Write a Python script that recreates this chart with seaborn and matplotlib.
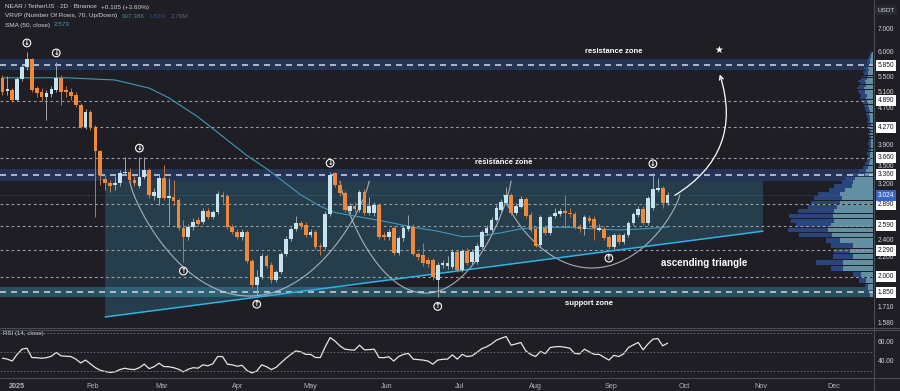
import numpy as np
import pandas as pd
import matplotlib
matplotlib.use('Agg')
import matplotlib.pyplot as plt
import matplotlib.dates as mdates
from matplotlib.ticker import NullLocator
import seaborn as sns

# ---- NEAR / USDT, 2D candles starting 2024-12-26 ----
opens = [5.49, 5.13, 5.16, 4.91, 5.46, 5.80, 6.04, 5.21, 5.11, 4.98, 5.06, 5.16, 5.49, 5.16, 5.11, 5.03,
         4.78, 4.28, 4.62, 4.28, 3.79, 3.28, 3.22, 3.19, 3.22, 3.39, 3.40, 3.27, 3.17, 3.32, 3.44, 3.01,
         2.98, 3.30, 2.98, 3.00, 2.95, 2.56, 2.45, 2.57, 2.67, 2.64, 2.79, 2.71, 2.78, 3.03, 3.01, 2.57,
         2.51, 2.45, 2.51, 2.17, 1.92, 2.00, 2.22, 2.12, 1.97, 2.05, 2.24, 2.42, 2.55, 2.63, 2.60, 2.47,
         2.51, 2.34, 2.325, 2.75, 3.39, 3.19, 3.06, 2.79, 2.86, 2.81, 3.07, 2.76, 2.76, 2.88, 2.47, 2.45,
         2.56, 2.255, 2.43, 2.55, 2.57, 2.24, 2.233, 2.18, 2.18, 1.97, 2.12, 2.11, 2.10, 2.27, 2.07, 2.28,
         2.155, 2.155, 2.325, 2.50, 2.535, 2.67, 2.81, 2.91, 3.03, 2.76, 2.85, 2.97, 2.736, 2.55, 2.35,
         2.56, 2.50, 2.72, 2.75, 2.79, 2.76, 2.75, 2.57, 2.55, 2.69, 2.68, 2.535, 2.55, 2.45, 2.325, 2.47,
         2.39, 2.47, 2.63, 2.74, 2.82, 2.63, 2.84, 3.11, 3.14, 2.91]
highs = [5.57, 5.54, 5.21, 5.51, 5.89, 6.26, 6.07, 5.27, 5.21, 5.16, 5.27, 5.95, 5.57, 5.27, 5.21, 5.11,
         4.83, 4.69, 4.66, 4.32, 3.81, 3.35, 3.27, 3.34, 3.44, 3.67, 3.47, 3.34, 3.67, 3.67, 3.47, 3.14,
         3.35, 3.53, 3.30, 3.27, 2.98, 2.67, 2.61, 2.69, 2.71, 2.83, 2.83, 2.81, 3.09, 3.07, 3.04, 2.61,
         2.55, 2.55, 2.535, 2.19, 2.07, 2.255, 2.24, 2.155, 2.07, 2.27, 2.46, 2.57, 2.72, 2.65, 2.64, 2.55,
         2.535, 2.37, 2.79, 3.40, 3.40, 3.22, 3.09, 2.91, 2.92, 3.11, 3.12, 3.00, 2.92, 2.91, 2.51, 2.55,
         2.59, 2.46, 2.60, 2.74, 2.61, 2.27, 2.37, 2.21, 2.20, 2.155, 2.18, 2.22, 2.30, 2.29, 2.30, 2.31,
         2.30, 2.37, 2.535, 2.60, 2.71, 2.88, 2.97, 3.15, 3.06, 2.91, 3.01, 3.00, 2.78, 2.57, 2.74,
         2.60, 2.74, 2.83, 2.83, 3.03, 2.83, 2.78, 2.61, 2.74, 2.74, 2.72, 2.61, 2.59, 2.47, 2.50, 2.50,
         2.50, 2.65, 2.78, 2.86, 2.86, 3.01, 3.39, 3.30, 3.17, 3.07]
lows = [5.03, 5.03, 4.86, 4.88, 5.40, 5.71, 5.11, 4.98, 4.88, 4.43, 4.98, 5.11, 4.78, 4.98, 4.91, 4.73,
        4.26, 4.23, 4.21, 2.71, 3.19, 3.11, 3.07, 3.11, 3.17, 3.35, 3.23, 3.17, 3.14, 3.28, 2.98, 2.95,
        2.88, 2.95, 2.60, 2.88, 2.535, 2.155, 2.41, 2.535, 2.59, 2.61, 2.68, 2.68, 2.75, 2.91, 2.55, 2.48,
        2.42, 2.41, 2.14, 1.89, 1.82, 1.98, 2.09, 1.94, 1.95, 2.03, 2.22, 2.40, 2.52, 2.55, 2.45, 2.45,
        2.30, 2.233, 2.30, 2.72, 3.15, 3.01, 2.78, 2.75, 2.78, 2.78, 2.74, 2.74, 2.72, 2.42, 2.41, 2.41,
        2.233, 2.233, 2.40, 2.52, 2.22, 2.18, 2.11, 2.10, 1.97, 1.80, 2.09, 2.08, 2.08, 2.05, 2.05, 2.12,
        2.13, 2.13, 2.30, 2.47, 2.51, 2.65, 2.78, 2.88, 2.74, 2.74, 2.83, 2.69, 2.51, 2.325, 2.325,
        2.47, 2.47, 2.69, 2.72, 2.56, 2.71, 2.55, 2.51, 2.47, 2.63, 2.41, 2.52, 2.41, 2.30, 2.30, 2.36,
        2.36, 2.45, 2.60, 2.71, 2.60, 2.60, 2.81, 3.07, 2.84, 2.88]
closes = [5.11, 5.19, 4.91, 5.46, 5.80, 6.04, 5.16, 5.08, 4.98, 5.08, 5.19, 5.49, 5.11, 5.11, 5.01, 4.78,
          4.28, 4.62, 4.28, 3.79, 3.35, 3.22, 3.17, 3.22, 3.39, 3.40, 3.27, 3.22, 3.32, 3.44, 3.03, 3.07,
          3.30, 2.98, 3.01, 2.94, 2.56, 2.45, 2.57, 2.64, 2.61, 2.79, 2.71, 2.78, 3.04, 3.00, 2.57, 2.51,
          2.45, 2.51, 2.17, 1.917, 2.00, 2.22, 2.11, 1.967, 2.05, 2.24, 2.42, 2.55, 2.63, 2.59, 2.47, 2.51,
          2.325, 2.325, 2.75, 3.35, 3.19, 3.06, 2.81, 2.86, 2.82, 3.07, 2.76, 2.86, 2.88, 2.45, 2.45, 2.51,
          2.255, 2.43, 2.56, 2.59, 2.24, 2.21, 2.14, 2.13, 2.00, 2.12, 2.14, 2.14, 2.27, 2.07, 2.28, 2.14,
          2.27, 2.34, 2.51, 2.56, 2.67, 2.83, 2.92, 3.03, 2.76, 2.86, 2.97, 2.72, 2.535, 2.34, 2.71,
          2.50, 2.71, 2.76, 2.79, 2.76, 2.75, 2.57, 2.55, 2.71, 2.65, 2.56, 2.56, 2.43, 2.325, 2.47, 2.39,
          2.47, 2.63, 2.75, 2.82, 2.63, 2.98, 3.12, 3.14, 2.91, 3.024]

# SMA(50, close)
sma_dates = ['2024-12-26', '2025-01-21', '2025-02-10', '2025-02-24', '2025-03-04', '2025-03-16',
             '2025-03-28', '2025-04-05', '2025-04-13', '2025-04-19', '2025-04-27', '2025-05-05',
             '2025-05-11', '2025-05-21', '2025-05-31', '2025-06-12', '2025-06-22', '2025-07-02',
             '2025-07-10', '2025-07-18', '2025-07-26', '2025-08-05', '2025-08-15', '2025-08-25',
             '2025-09-04', '2025-09-14', '2025-09-24']
sma_vals = [5.49, 5.49, 5.43, 5.21, 4.96, 4.50, 4.00, 3.70, 3.46, 3.27, 3.03, 2.86, 2.77, 2.71,
            2.65, 2.57, 2.52, 2.45, 2.46, 2.50, 2.55, 2.57, 2.57, 2.55, 2.535, 2.55, 2.573]

# RSI(14, close), one value per candle
rsi = [43, 42, 40, 47, 52.5, 53.5, 43.7, 43.5, 43, 43.5, 45, 49, 45.4, 45, 44.7, 42, 38, 41, 37, 33,
       30.3, 29, 28, 28.6, 31, 32.4, 31.4, 31, 33, 36.7, 32, 34, 37.7, 34.2, 34, 33, 31.4, 28.6, 31.4,
       33, 32.5, 36, 35, 37, 44.7, 44.7, 36.7, 36, 34.5, 35.5, 30, 27.5, 29.5, 36, 34, 31, 33.5, 38.4,
       43, 47, 50.7, 49.6, 47, 47, 43.7, 43.7, 55, 64.7, 61, 56, 52.5, 51.8, 51.5, 56.7, 51.8, 52, 52.5,
       43.7, 43.5, 44.5, 40, 44.7, 47, 48, 42, 41.5, 41, 40, 36.7, 41, 41.8, 42, 46.5, 42, 47, 44.7,
       45.4, 49, 53, 55, 58, 62, 64, 65.8, 56.7, 58, 59.5, 50.7, 47, 44.7, 50, 47.9, 54.2, 55, 55.3,
       54.5, 53.5, 48, 47.5, 52.5, 49.6, 47, 47, 44, 41, 46, 44.7, 47.5, 54.2, 57, 59.5, 51.8, 58, 63,
       63.7, 56, 58.8]

# Visible range volume profile, 70 rows from 1.80 to 6.26 (relative volume)
vp_total = [5, 8, 14, 20, 43, 58, 41, 40, 43, 48, 75, 86, 78, 83, 85, 76, 66, 63, 60, 56, 45, 40, 31, 28,
            21, 14, 10, 8, 6, 5, 6, 5, 4, 5, 4, 4, 5, 4, 5, 5, 6, 5, 6, 7, 7, 8, 9, 10, 12, 13, 12, 14,
            15, 16, 14, 13, 15, 12, 10, 9, 10, 8, 9, 7, 6, 6, 5, 4, 3, 3]
vp_up = [3, 5, 7, 12, 30, 30, 20, 23, 20, 33, 42, 46, 43, 40, 41, 40, 36, 33, 31, 33, 28, 21, 20, 18,
         8, 7, 5, 4, 3, 3, 3, 2, 2, 2, 2, 2, 3, 2, 3, 2, 3, 3, 3, 4, 3, 4, 5, 5, 6, 7, 6, 8, 8, 9, 7, 7,
         8, 6, 5, 5, 5, 4, 5, 4, 3, 3, 3, 2, 2, 1]
vp_low, vp_high = 1.80, 6.26

level_lines = [4.89, 4.27, 3.66, 2.89, 2.59, 2.29, 2.00]
zones = [(5.71, 6.04, 5.85), (3.25, 3.455, 3.36), (1.804, 1.898, 1.85)]
plain_ticks = [7.0, 5.5, 5.1, 4.7, 3.9, 3.5, 3.2, 2.4, 2.2, 1.71, 1.58]
boxed_ticks = [5.85, 4.89, 4.27, 3.66, 3.36, 2.89, 2.59, 2.29, 2.0, 1.85]
last_price = 3.024
month_labels = ['2025', 'Feb', 'Mar', 'Apr', 'May', 'Jun', 'Jul', 'Aug', 'Sep', 'Oct', 'Nov', 'Dec']

BG = '#1e1e24'
UP = '#c6e4f0'
DOWN = '#f0883a'
TXT = '#d1d4dc'

sns.set_theme(style='dark')
plt.rcParams['font.family'] = ['Liberation Sans', 'DejaVu Sans']

fig = plt.figure(figsize=(9, 3.91), dpi=100)
fig.patch.set_facecolor(BG)
W, H = 900, 391
ax = fig.add_axes([0, 1 - 327 / H, 873 / W, 327 / H])
ax_rsi = fig.add_axes([0, 1 - 377 / H, 873 / W, 48 / H])
for a in (ax, ax_rsi):
    a.set_facecolor(BG)
    for s in a.spines.values():
        s.set_visible(False)

dates = pd.date_range('2024-12-26', periods=len(closes), freq='2D')
xd = mdates.date2num(dates)
o, h, l, c = map(np.array, (opens, highs, lows, closes))
x_left = mdates.date2num(pd.Timestamp('2024-12-25'))
x_right = mdates.date2num(pd.Timestamp('2025-12-17'))

ax.set_yscale('log')
ax.set_ylim(1.549, 8.15)
ax.set_xlim(x_left, x_right)
ax.yaxis.set_major_locator(NullLocator())
ax.yaxis.set_minor_locator(NullLocator())
ax.set_xticks([])
ax.set_xlabel('')
ax.set_ylabel('')

# zones
for lo, hi, lev in zones[:2]:
    ax.axhspan(lo, hi, color='#233456', zorder=0.5, lw=0)
ax.axhspan(zones[2][0], zones[2][1], color='#28505f', zorder=0.5, lw=0)

# triangle box
t0, t1 = mdates.date2num(pd.Timestamp('2025-02-06')), mdates.date2num(pd.Timestamp('2025-11-02'))
ax.fill([t0, t1, t1, t0], [3.25, 3.25, 2.52, 1.63], color='#3a8aa8', alpha=0.3, lw=0, zorder=0.6)

# volume profile
edges = np.linspace(vp_low, vp_high, len(vp_total) + 1)
centers = (edges[:-1] + edges[1:]) / 2
binh = edges[1] - edges[0]
scale = 34.7 / max(vp_total)
tot_w = np.array(vp_total) * scale
up_w = np.array(vp_up) * scale
ax.barh(centers, tot_w, left=x_right - tot_w, height=binh * 0.85, color='#2c4a86', alpha=0.9, lw=0, zorder=1)
ax.barh(centers, up_w, left=x_right - up_w, height=binh * 0.85, color='#6a98a8', alpha=0.9, lw=0, zorder=1.05)

for lev in level_lines:
    ax.axhline(lev, color='#9a9ca4', lw=0.8, ls=(0, (2.5, 2.5)), zorder=1.2)
ax.axhline(last_price, color='#4a78c0', lw=0.6, ls=(0, (1, 2)), alpha=0.7, zorder=1.2)
for lo, hi, lev in zones:
    ax.axhline(lev, color='#c8ccd4', lw=1.2, ls=(0, (3.6, 3)), zorder=2)


def cup_curve(left, right, p_top, p_bot, n=120):
    a, b = mdates.date2num(pd.Timestamp(left)), mdates.date2num(pd.Timestamp(right))
    u = np.linspace(-1, 1, n)
    xs = (a + b) / 2 + (b - a) / 2 * u
    depth = (1 - u ** 2) ** 0.8
    ly = np.log(p_top) - (np.log(p_top) - np.log(p_bot)) * depth
    return xs, np.exp(ly)


for left, right, pt, pb in [('2025-02-16', '2025-05-25', 3.25, 1.813),
                            ('2025-05-13', '2025-07-22', 3.25, 1.84),
                            ('2025-07-19', '2025-09-29', 3.03, 2.09)]:
    cx, cy = cup_curve(left, right, pt, pb)
    ax.plot(cx, cy, color='#c0c4c8', lw=0.8, alpha=0.85, zorder=1.5)

# trendline
ax.plot([t0, t1], [1.63, 2.52], color='#2cb4ea', lw=1.1, zorder=2.2)

# SMA
sns.lineplot(x=mdates.date2num(pd.to_datetime(sma_dates)), y=sma_vals, ax=ax, color='#3e9ab8', lw=0.8, zorder=2.4)

# candles
up = c >= o
body_lo = np.minimum(o, c)
body_hi = np.maximum(o, c)
body_h = np.maximum(body_hi - body_lo, body_lo * 0.005)
ax.vlines(xd[up], l[up], h[up], color='#9aa6ac', lw=0.7, zorder=3)
ax.vlines(xd[~up], l[~up], h[~up], color='#c8743a', lw=0.7, zorder=3)
ax.bar(xd[up], body_h[up], bottom=body_lo[up], width=1.5, color=UP, lw=0, zorder=3.1)
ax.bar(xd[~up], body_h[~up], bottom=body_lo[~up], width=1.5, color=DOWN, lw=0, zorder=3.1)

# pivot icons
icon = dict(textcoords='offset pixels', ha='center', va='center', fontsize=5, color='white',
            family='DejaVu Sans', fontweight='bold', zorder=6,
            bbox=dict(boxstyle='circle,pad=0.12', fc=BG, ec='white', lw=0.8))
for i in (5, 11, 28, 67, 133):
    ax.annotate('↓', xy=(xd[i], h[i]), xytext=(0, 9), **icon)
for i in (37, 52, 89, 124):
    ax.annotate('↑', xy=(xd[i], l[i]), xytext=(0, -9), **icon)

# projection arrow and star
ax.annotate('', xy=(mdates.date2num(pd.Timestamp('2025-10-15')), 5.66),
            xytext=(mdates.date2num(pd.Timestamp('2025-09-26')), 3.00),
            arrowprops=dict(arrowstyle='->', color='white', lw=0.9, mutation_scale=7,
                            connectionstyle='arc3,rad=0.4'), zorder=6)
ax.text(mdates.date2num(pd.Timestamp('2025-10-15')), 6.32, '★', color='white', fontsize=7,
        ha='center', va='center', family='DejaVu Sans')

tb = dict(color='white', fontsize=5.5, fontweight='bold', ha='center', va='center', zorder=7)
ax.text(mdates.date2num(pd.Timestamp('2025-09-02')), 6.26, 'resistance zone', **tb)
ax.text(mdates.date2num(pd.Timestamp('2025-07-19')), 3.58, 'resistance zone', **tb)
ax.text(mdates.date2num(pd.Timestamp('2025-08-23')), 1.741, 'support zone', **tb)
ax.text(mdates.date2num(pd.Timestamp('2025-10-09')), 2.144, 'ascending triangle',
        color='white', fontsize=7, fontweight='bold', ha='center', va='center', zorder=7)

# right price scale
yt = ax.get_yaxis_transform()
ax.text(1.0149, 6.12, '6.000', transform=yt, clip_on=False, ha='center', va='bottom',
        fontsize=4.8, color=TXT, zorder=1)
for v in plain_ticks:
    ax.text(1.0149, v, f'{v:.3f}', transform=yt, clip_on=False, ha='center', va='center',
            fontsize=4.8, color=TXT, zorder=1)
for v in boxed_ticks:
    ax.text(1.0149, v, f'{v:.3f}', transform=yt, clip_on=False, ha='center', va='center',
            fontsize=4.8, color='#131722', zorder=8,
            bbox=dict(boxstyle='square,pad=0.3', fc='white', ec='none'))
ax.text(1.0149, last_price, f'{last_price:.3f}', transform=yt, clip_on=False, ha='center', va='center',
        fontsize=4.8, color='white', zorder=8, bbox=dict(boxstyle='square,pad=0.3', fc='#3a64c4', ec='none'))
fig.text(886 / W, 1 - 10 / H, 'USDT', ha='center', va='center', fontsize=4.6, color=TXT,
         bbox=dict(boxstyle='round,pad=0.35', fc='#2a2b31', ec='none'))


# legend lines
def legend_line(parts, y):
    prev = fig.text(5 / W, 1 - y / H, parts[0][0], color=parts[0][1], fontsize=4.6, ha='left', va='center')
    for s, col in parts[1:]:
        prev = ax.annotate(s, xy=(1, 0.5), xycoords=prev, xytext=(3, 0), textcoords='offset points',
                           color=col, fontsize=4.6, ha='left', va='center', annotation_clip=False)


legend_line([('NEAR / TetherUS · 2D · Binance', TXT), ('+0.105 (+3.60%)', TXT)], 7)
legend_line([('VRVP (Number Of Rows, 70, Up/Down)', TXT), ('937.38K', '#4e7f90'),
             ('1.82M', '#2f4a80'), ('2.76M', '#5d6070')], 16)
legend_line([('SMA (50, close)', TXT), ('2.573', '#3fa7c4')], 25)

# RSI pane
sns.lineplot(x=xd, y=rsi, ax=ax_rsi, color='#e6e6e6', lw=0.9)
ax_rsi.set_ylim(23.2, 73.7)
ax_rsi.set_xlim(x_left, x_right)
for lev in (70, 50, 30):
    ax_rsi.axhline(lev, color='#6b6e78', lw=0.6, ls=(0, (2, 2)))
ax_rsi.set_yticks([])
ax_rsi.set_ylabel('')
month_pos = mdates.date2num(pd.date_range('2025-01-01', periods=12, freq='MS'))
ax_rsi.set_xticks(month_pos)
ax_rsi.set_xticklabels(month_labels)
ax_rsi.tick_params(axis='x', length=0, pad=4, labelsize=5.2, colors='#b2b5be')
ax_rsi.get_xticklabels()[0].set_fontweight('bold')
ryt = ax_rsi.get_yaxis_transform()
for v in (60, 40):
    ax_rsi.text(1.0149, v, f'{v:.2f}', transform=ryt, clip_on=False, ha='center', va='center',
                fontsize=4.8, color=TXT)
ax_rsi.text(0.004, 0.9, 'RSI (14, close)', transform=ax_rsi.transAxes, fontsize=4.4, color=TXT,
            ha='left', va='center')

# pane separators and price-scale divider
for yy in (327.5, 329.5, 377.5):
    fig.add_artist(plt.Line2D([0, 1], [1 - yy / H] * 2, color='#4a4c55', lw=0.8))
fig.add_artist(plt.Line2D([873.5 / W] * 2, [0, 1], color='#4a4c55', lw=0.8))

fig.savefig('out.png', dpi=100, facecolor=BG)
